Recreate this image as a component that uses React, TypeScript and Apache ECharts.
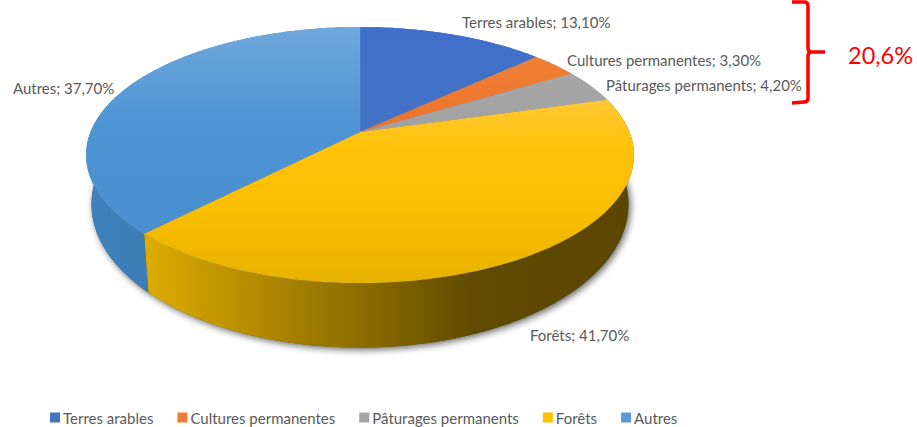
import React, { useEffect, useRef } from "react";
import * as echarts from "echarts";

const categories = ["Terres arables", "Cultures permanentes", "Pâturages permanents", "Forêts", "Autres"];
const values = [13.1, 3.3, 4.2, 41.7, 37.7];
const valueLabels = ["13,10%", "3,30%", "4,20%", "41,70%", "37,70%"];
const bracketTotal = "20,6%";

const legendColors = ["#4472C4", "#ED7D31", "#A5A5A5", "#FFC000", "#5B9BD5"];
const FONT = "Lato, 'Open Sans', sans-serif";
const TEXT = "#595959";

// Perspective projection of the pie disc
const CX = 360, CY = 132, A = 269.5, B = 123.9, K = 0.18;
const SIDE_SX = 0.98, SIDE_SY = 1.12, SIDE_DY = 46.5;

function project(frac: number, plane: "top" | "bottom") {
  const t = frac * 2 * Math.PI;
  const X = Math.sin(t), Y = Math.cos(t);
  const d = 1 + K * Y;
  const px = (A * X) / d, py = (B * Y) / d;
  if (plane === "top") return [CX + px, CY - py];
  return [CX + px * SIDE_SX, CY + SIDE_DY - py * SIDE_SY];
}
function arc(f0: number, f1: number, plane: "top" | "bottom") {
  const n = Math.max(2, Math.ceil((f1 - f0) * 360));
  const out: number[][] = [];
  for (let i = 0; i <= n; i++) out.push(project(f0 + ((f1 - f0) * i) / n, plane));
  return out;
}
const total = values.reduce((a, b) => a + b, 0);
const starts = values.map((_, i) => values.slice(0, i).reduce((a, b) => a + b, 0) / total);
const ends = values.map((_, i) => values.slice(0, i + 1).reduce((a, b) => a + b, 0) / total);

const grad = (x0: number, y0: number, x1: number, y1: number, stops: [number, string][]) =>
  new echarts.graphic.LinearGradient(x0, y0, x1, y1, stops.map(([offset, color]) => ({ offset, color })), true);

const topFills = [
  () => grad(0, 27, 0, 140, [[0, "#3F6FCA"], [1, "#4472C4"]]),
  () => grad(0, 50, 0, 140, [[0, "#F08238"], [1, "#ED7028"]]),
  () => grad(0, 60, 0, 140, [[0, "#A8A8A8"], [1, "#A0A0A0"]]),
  () => grad(0, 90, 0, 285, [[0, "#FFC93C"], [0.3, "#FFC20A"], [0.6, "#FBBE00"], [1, "#E6B200"]]),
  () => grad(0, 27, 0, 240, [[0, "#6FA8DC"], [0.45, "#4E94D4"], [1, "#4A90CF"]]),
];
const sideFills = [
  () => "#34558f",
  () => "#a85520",
  () => "#707070",
  () => grad(146, 0, 630, 0, [[0, "#DCAC00"], [0.2, "#B88F00"], [0.45, "#8A6C00"], [0.68, "#5F4A00"], [1, "#5A4600"]]),
  () => grad(88, 0, 150, 0, [[0, "#3F81BC"], [1, "#3C7DB6"]]),
];

const labelPos: [number, number][] = [
  [462, 22],
  [567, 60],
  [606, 85],
  [530, 335],
  [13, 88],
];

const bracketPath =
  "M792 2 L804 2 Q808 2 808 6 L808 48 Q808 52 812 52 L825 52 M812 52 Q808 52 808 56 L808 98 Q808 102 804 102 L792 103";
echarts.graphic.registerShape("redBracket", echarts.graphic.extendPath(bracketPath, {}) as any);

export default function App() {
  const ref = useRef<HTMLDivElement>(null);
  useEffect(() => {
    document.body.style.margin = "0";
    const chart = echarts.init(ref.current!, undefined, { renderer: "svg" });
    const shadowSeries: any = {
      type: "custom",
      coordinateSystem: "none",
      silent: true,
      z: 1,
      data: [[1]],
      renderItem: () => ({
        type: "polygon",
        shape: { points: arc(0, 1, "bottom") },
        style: {
          fill: "#555",
          shadowColor: "rgba(0,0,0,0.6)",
          shadowBlur: 7,
          shadowOffsetX: 2,
          shadowOffsetY: 2,
        },
      }),
    };
    const sideSeries: any = {
      type: "custom",
      coordinateSystem: "none",
      silent: true,
      z: 2,
      data: values.map((v, i) => [i, v]),
      renderItem: (p: any) => {
        const i = p.dataIndex;
        return {
          type: "polygon",
          shape: { points: [...arc(starts[i], ends[i], "top"), ...arc(starts[i], ends[i], "bottom").reverse()] },
          style: { fill: sideFills[i]() },
        };
      },
    };
    const topSeries: any[] = categories.map((name, i) => ({
      type: "custom",
      name,
      coordinateSystem: "none",
      silent: true,
      z: 3,
      itemStyle: { color: legendColors[i] },
      data: [[values[i]]],
      renderItem: () => ({
        type: "polygon",
        shape: { points: [[CX, CY], ...arc(starts[i], ends[i], "top")] },
        style: { fill: topFills[i](), stroke: "rgba(255,255,255,0.12)", lineWidth: 0.5 },
      }),
    }));
    chart.setOption({
      animation: false,
      backgroundColor: "#fff",
      legend: {
        data: categories.map((name) => ({ name, icon: "rect" })),
        left: 50,
        top: 410,
        padding: 0,
        itemWidth: 10,
        itemHeight: 10,
        itemGap: 24,
        selectedMode: false,
        textStyle: { fontFamily: FONT, fontSize: 15, color: TEXT, padding: [0, 0, 0, -2] },
      },
      series: [shadowSeries, sideSeries, ...topSeries],
      graphic: [
        ...categories.map((c, i) => ({
          type: "text",
          x: labelPos[i][0],
          y: labelPos[i][1],
          z: 10,
          silent: true,
          style: {
            text: `${c}; ${valueLabels[i]}`,
            fill: TEXT,
            font: `15px ${FONT}`,
            verticalAlign: "middle",
          },
        })),
        {
          type: "redBracket",
          x: 0,
          y: 0,
          z: 10,
          silent: true,
          style: { fill: "none", stroke: "#FF0000", lineWidth: 3.5 },
        },
        {
          type: "text",
          x: 848,
          y: 55,
          z: 10,
          silent: true,
          style: {
            text: bracketTotal,
            fill: "#FF0000",
            font: `23.5px ${FONT}`,
            verticalAlign: "middle",
          },
        },
      ],
    });
    return () => chart.dispose();
  }, []);
  return <div ref={ref} style={{ width: 917, height: 427 }} />;
}
